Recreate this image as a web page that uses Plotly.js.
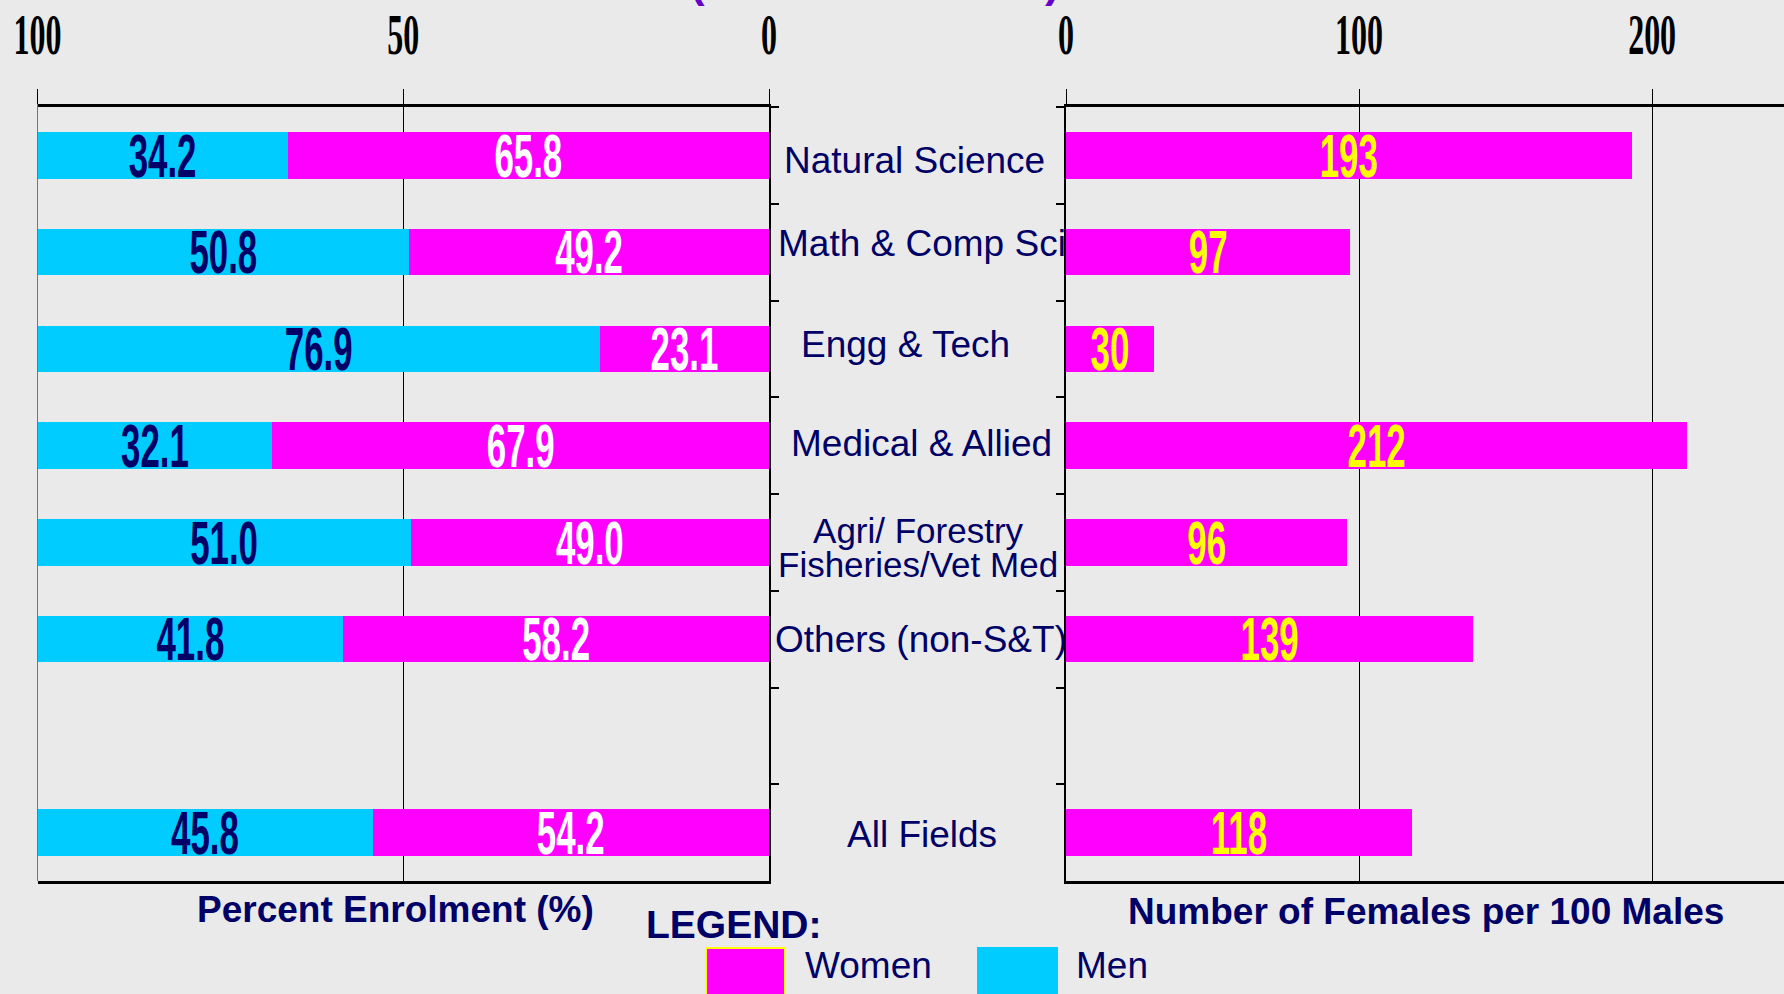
<!DOCTYPE html>
<html><head><meta charset="utf-8">
<script src="https://cdn.plot.ly/plotly-3.0.1.min.js"></script>
<style>html,body{margin:0;padding:0;background:#EAEAEA;overflow:hidden;} #chart{width:1784px;height:994px;}</style>
</head><body><div id="chart"></div>
<script>
// ---- data ----
const categories = ["Natural Science", "Math & Comp Sci", "Engg & Tech", "Medical & Allied",
  "Agri/ Forestry<br>Fisheries/Vet Med", "Others (non-S&T)", "All Fields"];
const axisCategories = ["Natural Science", "Math & Comp Sci", "Engg & Tech", "Medical & Allied",
  "Agri/ Forestry<br>Fisheries/Vet Med", "Others (non-S&T)", " ", "All Fields"];
const womenPct = [65.8, 49.2, 23.1, 67.9, 49.0, 58.2, 54.2];
const menPct = [34.2, 50.8, 76.9, 32.1, 51.0, 41.8, 45.8];
const femalesPer100Males = [193, 97, 30, 212, 96, 139, 118];
const leftTicks = [100, 50, 0];
const rightTicks = [0, 100, 200];
const leftTitle = "Percent Enrolment (%)";
const rightTitle = "Number of Females per 100 Males";
const legendTitle = "LEGEND:";
const legendLabels = ["Women", "Men"];

// ---- style ----
const MAGENTA = "#FF00FF", CYAN = "#00CCFF", NAVY = "#000066", BG = "#EAEAEA";
const SANS = "Liberation Sans, Arial, sans-serif";
const SERIF = "Liberation Serif, Times New Roman, serif";
// small per-label nudges (pixels) of the category labels, as in the original layout
const labelDx = [-3, 4, -12, 4, 0, 3, 0, 4];
const labelDy = [-5, 9, 4, 2, -5, 0, 0, -2];
const TIGHT = 0.97;   // line spacing (em) of two-line labels

const barFont = (c) => ({family: SANS, size: 42, color: c, weight: "bold"});
const common = {type: "bar", orientation: "h", textposition: "inside", insidetextanchor: "middle",
  textangle: 0, constraintext: "none", hoverinfo: "none", cliponaxis: false};

const traces = [
  Object.assign({}, common, {x: womenPct, y: categories, xaxis: "x", yaxis: "y", name: legendLabels[0],
    marker: {color: MAGENTA}, text: womenPct.map(v => v.toFixed(1)), textfont: barFont("#FFFFFF")}),
  Object.assign({}, common, {x: menPct, y: categories, xaxis: "x", yaxis: "y", name: legendLabels[1],
    marker: {color: CYAN}, text: menPct.map(v => v.toFixed(1)), textfont: barFont(NAVY)}),
  Object.assign({}, common, {x: femalesPer100Males, y: categories, xaxis: "x2", yaxis: "y2", name: "ratio",
    marker: {color: MAGENTA}, text: femalesPer100Males.map(String), textfont: barFont("#FFFF00")})
];

const xCommon = {side: "top", ticks: "outside", ticklen: 15, tickwidth: 1, tickcolor: "#000",
  showgrid: true, gridcolor: "#000", gridwidth: 1, showline: true, linecolor: "#000", linewidth: 3,
  mirror: true, zeroline: false, fixedrange: true, ticklabelstandoff: 30,
  tickfont: {family: SERIF, size: 32, color: "#000", weight: "bold"}};
const yCommon = {type: "category", categoryorder: "array", categoryarray: axisCategories,
  range: [axisCategories.length - 0.5, -0.5], showline: true, linecolor: "#000", linewidth: 2,
  ticks: "outside", tickson: "boundaries", ticklen: 8, tickwidth: 2, tickcolor: "#000",
  showticklabels: false, showgrid: false, zeroline: false, fixedrange: true};

const H = 994, T = 107, B = 113, PH = H - T - B, W = 1784;
const py = (pix) => (H - B - pix) / PH;   // pixel row -> paper y
const px = (pix) => pix / W;

const annotations = [];
// category labels centred in the gap between panels
axisCategories.forEach((c, i) => {
  if (!c.trim()) return;
  const n = c.split("<br>").length;
  const size = n > 1 ? 35 : 37;
  annotations.push({xref: "paper", yref: "y", x: px(917.5), y: i, text: c, showarrow: false,
    xanchor: "center", yanchor: "middle", xshift: labelDx[i],
    // compensate for tightening the line spacing after drawing
    yshift: labelDy[i] - (n - 1) * (1.3 - TIGHT) * size / 2,
    font: {family: SANS, size: size, color: NAVY}});
});
annotations.push({xref: "paper", yref: "paper", x: px(395), y: py(910), text: leftTitle, showarrow: false,
  xanchor: "center", yanchor: "middle", font: {family: SANS, size: 37, color: NAVY, weight: "bold"}});
annotations.push({xref: "paper", yref: "paper", x: px(1426), y: py(911), text: rightTitle, showarrow: false,
  xanchor: "center", yanchor: "middle", font: {family: SANS, size: 37, color: NAVY, weight: "bold"}});
annotations.push({xref: "paper", yref: "paper", x: px(734), y: py(924), text: legendTitle, showarrow: false,
  xanchor: "center", yanchor: "middle", font: {family: SANS, size: 39, color: NAVY, weight: "bold"}});
annotations.push({xref: "paper", yref: "paper", x: px(803), y: py(965), text: legendLabels[0], showarrow: false,
  xanchor: "left", yanchor: "middle", font: {family: SANS, size: 37, color: NAVY}});
annotations.push({xref: "paper", yref: "paper", x: px(1074), y: py(965), text: legendLabels[1], showarrow: false,
  xanchor: "left", yanchor: "middle", font: {family: SANS, size: 37, color: NAVY}});
// cut-off title: only the bottoms of its parentheses are visible
annotations.push({xref: "paper", yref: "paper", x: px(697), y: py(8), text: "(", showarrow: false,
  xanchor: "center", yanchor: "bottom", font: {family: SANS, size: 44, color: "#6600CC", weight: "bold"}});
annotations.push({xref: "paper", yref: "paper", x: px(1052), y: py(8), text: ")", showarrow: false,
  xanchor: "center", yanchor: "bottom", font: {family: SANS, size: 44, color: "#6600CC", weight: "bold"}});

const shapes = [
  // grid line at the far (100 %) end of the left axis
  {type: "line", xref: "x", yref: "paper", x0: leftTicks[0], x1: leftTicks[0], y0: 0, y1: 1 + 15 / PH,
    line: {color: "#000", width: 1}, layer: "below"},
  {type: "rect", xref: "paper", yref: "paper", x0: px(706), x1: px(785), y0: py(1000), y1: py(948),
    fillcolor: MAGENTA, line: {color: "#FFFF00", width: 2}},
  {type: "rect", xref: "paper", yref: "paper", x0: px(977), x1: px(1058), y0: py(1000), y1: py(947),
    fillcolor: CYAN, line: {width: 0}}
];

const layout = {
  width: W, height: H, autosize: false,
  paper_bgcolor: BG, plot_bgcolor: BG,
  margin: {l: 0, r: 0, t: T, b: B, pad: 0},
  barmode: "stack", bargap: 0.52, showlegend: false,
  xaxis: Object.assign({}, xCommon, {domain: [px(37.5), px(769)], range: [100, 0], tickvals: leftTicks, anchor: "y"}),
  yaxis: Object.assign({}, yCommon, {side: "right", anchor: "x", domain: [0, 1]}),
  xaxis2: Object.assign({}, xCommon, {domain: [px(1066), 1], range: [0, 245], tickvals: rightTicks, anchor: "y2"}),
  yaxis2: Object.assign({}, yCommon, {side: "left", anchor: "x2", domain: [0, 1]}),
  annotations: annotations, shapes: shapes
};

function stretch(sel, sx, sy) {
  document.querySelectorAll(sel).forEach(el => {
    const bb = el.getBBox();
    const cx = bb.x + bb.width / 2, cy = bb.y + bb.height / 2;
    const t = el.getAttribute("transform") || "";
    el.setAttribute("transform", t + ` translate(${cx},${cy}) scale(${sx},${sy}) translate(${-cx},${-cy})`);
  });
}

Plotly.newPlot("chart", traces, layout, {displayModeBar: false, staticPlot: true, responsive: false}).then(() => {
  stretch("#chart .bartext", 0.83, 1.46);
  stretch("#chart .xtick text, #chart .x2tick text", 1, 1.75);
  // tighter line spacing for two-line category labels
  document.querySelectorAll("#chart .annotation-text").forEach(el => {
    el.querySelectorAll("tspan.line").forEach((ts, k) => {
      if (k > 0) ts.setAttribute("dy", (k * TIGHT) + "em");
    });
  });
});
</script>
</body></html>
